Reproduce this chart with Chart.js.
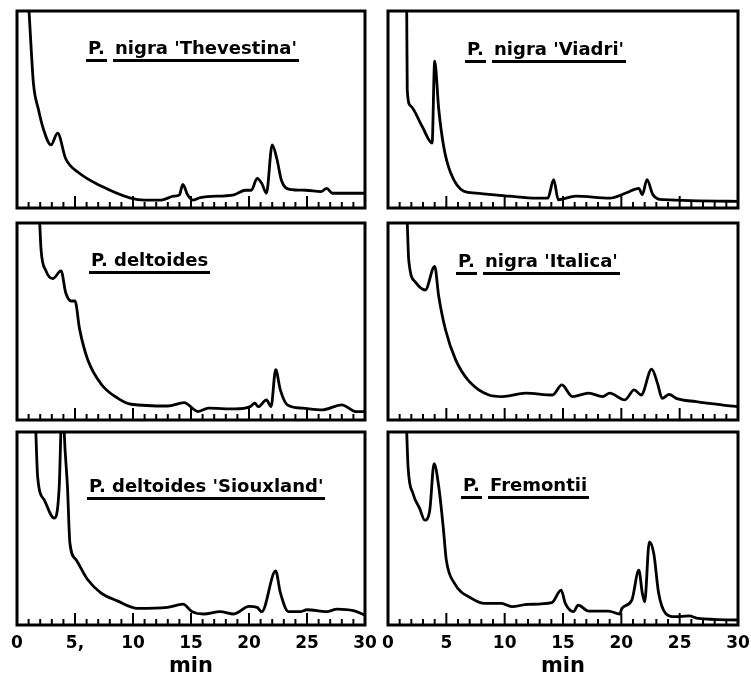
<!DOCTYPE html>
<html>
<head>
<meta charset="utf-8">
<title>Chromatograms</title>
<script src="https://cdn.jsdelivr.net/npm/chart.js@4.4.1/dist/chart.umd.min.js"></script>
<style>
  html, body { margin: 0; padding: 0; background: #fff; overflow: hidden; }
  body { width: 751px; height: 681px; position: relative; }
  canvas { position: absolute; }
  .title { position: absolute; font: bold 18px "DejaVu Sans", sans-serif; line-height: 18px; white-space: nowrap; color: #000; }
  .title span { border-bottom: 3px solid #000; padding: 0 2px 1px; }
</style>
</head>
<body>
<canvas id="c1" width="374" height="203" style="left:3px;top:8px"></canvas>
<canvas id="c2" width="376" height="203" style="left:374px;top:8px"></canvas>
<canvas id="c3" width="374" height="203" style="left:3px;top:220px"></canvas>
<canvas id="c4" width="376" height="203" style="left:374px;top:220px"></canvas>
<canvas id="c5" width="374" height="252" style="left:3px;top:429px"></canvas>
<canvas id="c6" width="376" height="252" style="left:374px;top:429px"></canvas>

<div class="title" style="left:86px;top:39px"><span>P.</span> <span>nigra 'Thevestina'</span></div>
<div class="title" style="left:465px;top:40px"><span>P.</span> <span>nigra 'Viadri'</span></div>
<div class="title" style="left:89px;top:251px"><span>P. deltoides</span></div>
<div class="title" style="left:456px;top:252px"><span>P.</span> <span>nigra 'Italica'</span></div>
<div class="title" style="left:87px;top:477px"><span>P. deltoides 'Siouxland'</span></div>
<div class="title" style="left:461px;top:476px"><span>P.</span> <span>Fremontii</span></div>

<script>
// retention time (min) and detector response (% of panel height)
const thevestinaTimes = [1.0, 1.23, 1.42, 1.85, 2.28, 2.93, 3.5, 4.2, 5.3, 7.3, 9.8, 11, 12.4, 13.5, 14.0, 14.3, 14.7, 15.2, 15.8, 18.7, 19.7, 20.2, 20.7, 21.1, 21.5, 22.0, 22.4, 22.8, 23.5, 24.9, 26.2, 26.7, 27.2, 28.6, 30];
const thevestinaValues = [104, 80, 63, 50, 40, 32, 38, 25, 18, 11, 5, 4, 4, 6, 6.7, 12, 6.7, 4, 5.3, 6.7, 9, 9, 15, 12.5, 7.5, 32, 25, 14, 9.5, 9, 8.3, 10, 7.5, 7.5, 7.5];

const viadriTimes = [1.6, 1.65, 1.92, 2.92, 3.78, 4.0, 4.35, 4.78, 5.36, 6.5, 7.5, 10.4, 12.7, 13.7, 14.2, 14.6, 16.1, 19, 20.4, 21.5, 21.8, 22.2, 22.7, 23.6, 30];
const viadriValues = [105, 60, 52, 41.5, 33, 74.6, 50, 31, 18, 8.5, 7.6, 6, 5, 5, 14.4, 4.2, 6, 5, 7.6, 10, 6.8, 14.4, 6.8, 4.2, 3.4];

const deltoidesTimes = [1.93, 2.07, 2.5, 3.08, 3.8, 4.2, 4.67, 5.0, 5.4, 6.1, 7.3, 8.7, 9.85, 13, 14.4, 15.6, 16.5, 18.8, 20.1, 20.5, 20.8, 21.5, 21.9, 22.3, 22.7, 23.3, 24.6, 26.3, 28, 29.2, 30];
const deltoidesValues = [104, 86.7, 75.7, 71.8, 75.7, 64.6, 60.4, 60.4, 46, 30.6, 17.9, 11, 8, 7.1, 8.8, 4.3, 6, 5.6, 6.8, 8.5, 6.8, 10.2, 6.8, 25.5, 15.3, 7.7, 6, 5.1, 7.7, 4.3, 4.3];

const italicaTimes = [1.63, 1.78, 2.35, 3.2, 4.0, 4.35, 4.93, 5.8, 6.9, 8.65, 9.8, 11.8, 14.1, 14.9, 15.8, 17.2, 18.4, 19, 20.3, 21.1, 21.7, 22.6, 23.1, 23.5, 24.1, 24.7, 26.4, 28.7, 30];
const italicaValues = [104, 81, 70, 66, 78, 62.7, 45.8, 30.5, 20, 12.7, 11.9, 13.6, 12.7, 17.8, 11.9, 13.6, 11.9, 13.6, 10.2, 15.3, 12.7, 25.8, 18.6, 11, 13, 11, 9.3, 7.6, 6.8];

const siouxlandTimes = [1.6, 1.78, 2.35, 3.2, 3.64, 3.78, 3.93, 4.07, 4.35, 4.56, 5.07, 6.07, 7.2, 8.65, 10.4, 12.95, 14.3, 15.1, 16.1, 17.5, 18.7, 20, 20.7, 21.1, 22.3, 22.7, 23.4, 24.4, 25, 26.7, 27.6, 29, 30];
const siouxlandValues = [104, 76.8, 64.8, 55.4, 71.7, 100, 130, 100, 71.7, 42.5, 34, 23.7, 16.8, 12.5, 8.6, 9.1, 10.8, 6.9, 5.7, 6.9, 5.7, 9.6, 9.1, 6.9, 28, 16.8, 6.9, 6.9, 7.9, 6.9, 8.2, 7.4, 5.1];

const fremontiiTimes = [1.58, 1.72, 2.15, 2.72, 3.15, 3.58, 3.95, 4.35, 4.73, 5.0, 5.7, 7.16, 8.3, 9.74, 10.6, 12, 14.04, 14.84, 15.2, 15.9, 16.3, 17.2, 18.9, 19.86, 20.05, 20.9, 21.5, 21.8, 22.0, 22.4, 22.78, 23.2, 23.8, 24.6, 25.8, 26.6, 30];
const fremontiiValues = [104, 81.9, 68, 60.3, 54.3, 59.5, 83.6, 71.6, 50.9, 33.6, 21.6, 13.8, 11.2, 11.2, 9.5, 10.7, 11.6, 18.1, 11.2, 6.9, 10.3, 7.2, 7.2, 5.7, 8.6, 12.9, 28.4, 16.4, 12, 43.1, 37, 16.4, 6, 4.3, 4.7, 3.4, 2.6];

// axis
const minuteTicks = [0, 1, 2, 3, 4, 5, 6, 7, 8, 9, 10, 11, 12, 13, 14, 15, 16, 17, 18, 19, 20, 21, 22, 23, 24, 25, 26, 27, 28, 29, 30];
const leftTickLabels = ['0', '5,', '10', '15', '20', '25', '30'];
const rightTickLabels = ['0', '5', '10', '15', '20', '25', '30'];

const panels = [
  { id: 'c1', times: thevestinaTimes, values: thevestinaValues, bottom: false },
  { id: 'c2', times: viadriTimes, values: viadriValues, bottom: false },
  { id: 'c3', times: deltoidesTimes, values: deltoidesValues, bottom: false },
  { id: 'c4', times: italicaTimes, values: italicaValues, bottom: false },
  { id: 'c5', times: siouxlandTimes, values: siouxlandValues, bottom: true, labels: leftTickLabels },
  { id: 'c6', times: fremontiiTimes, values: fremontiiValues, bottom: true, labels: rightTickLabels }
];

// frame + inward minute ticks
const framePlugin = {
  id: 'frame',
  afterDatasetsDraw(chart) {
    const { ctx, chartArea: a, scales: { x } } = chart;
    ctx.save();
    ctx.strokeStyle = '#000';
    ctx.lineWidth = 2;
    minuteTicks.forEach(m => {
      const px = x.getPixelForValue(m);
      const len = m % 5 === 0 ? 12 : 6;
      ctx.beginPath();
      ctx.moveTo(px, a.bottom);
      ctx.lineTo(px, a.bottom - len);
      ctx.stroke();
    });
    ctx.lineWidth = 3;
    ctx.strokeRect(a.left, a.top, a.right - a.left, a.bottom - a.top);
    ctx.restore();
  }
};

function makeChart(p) {
  const boldFont = size => ({ family: "'DejaVu Sans', sans-serif", weight: 'bold', size });
  return new Chart(document.getElementById(p.id), {
    type: 'line',
    data: {
      datasets: [{
        data: p.times.map((t, i) => ({ x: t, y: p.values[i] })),
        borderColor: '#000',
        borderWidth: 2.8,
        pointRadius: 0,
        cubicInterpolationMode: 'monotone',
        fill: false
      }]
    },
    options: {
      responsive: false,
      animation: false,
      events: [],
      layout: { padding: { left: 14, right: 12, top: 3, bottom: p.bottom ? 0 : 3 } },
      plugins: { legend: { display: false }, tooltip: { enabled: false } },
      scales: {
        x: {
          type: 'linear',
          min: 0,
          max: 30,
          display: p.bottom,
          grid: { display: false, drawTicks: false },
          border: { display: false },
          ticks: {
            stepSize: 5,
            autoSkip: false,
            maxRotation: 0,
            padding: 8,
            color: '#000',
            font: boldFont(17),
            callback: (v, i) => p.labels ? p.labels[i] : ''
          },
          title: { display: true, text: 'min', color: '#000', font: boldFont(21), padding: { top: 0, bottom: 2 } },
          afterFit: s => {
            if (!p.bottom) return;
            s.height = 56;
            s.paddingLeft = 0;
            s.paddingRight = 0;
          }
        },
        y: { display: false, min: 0, max: 100 }
      }
    },
    plugins: [framePlugin]
  });
}

panels.forEach(makeChart);
</script>
</body>
</html>
